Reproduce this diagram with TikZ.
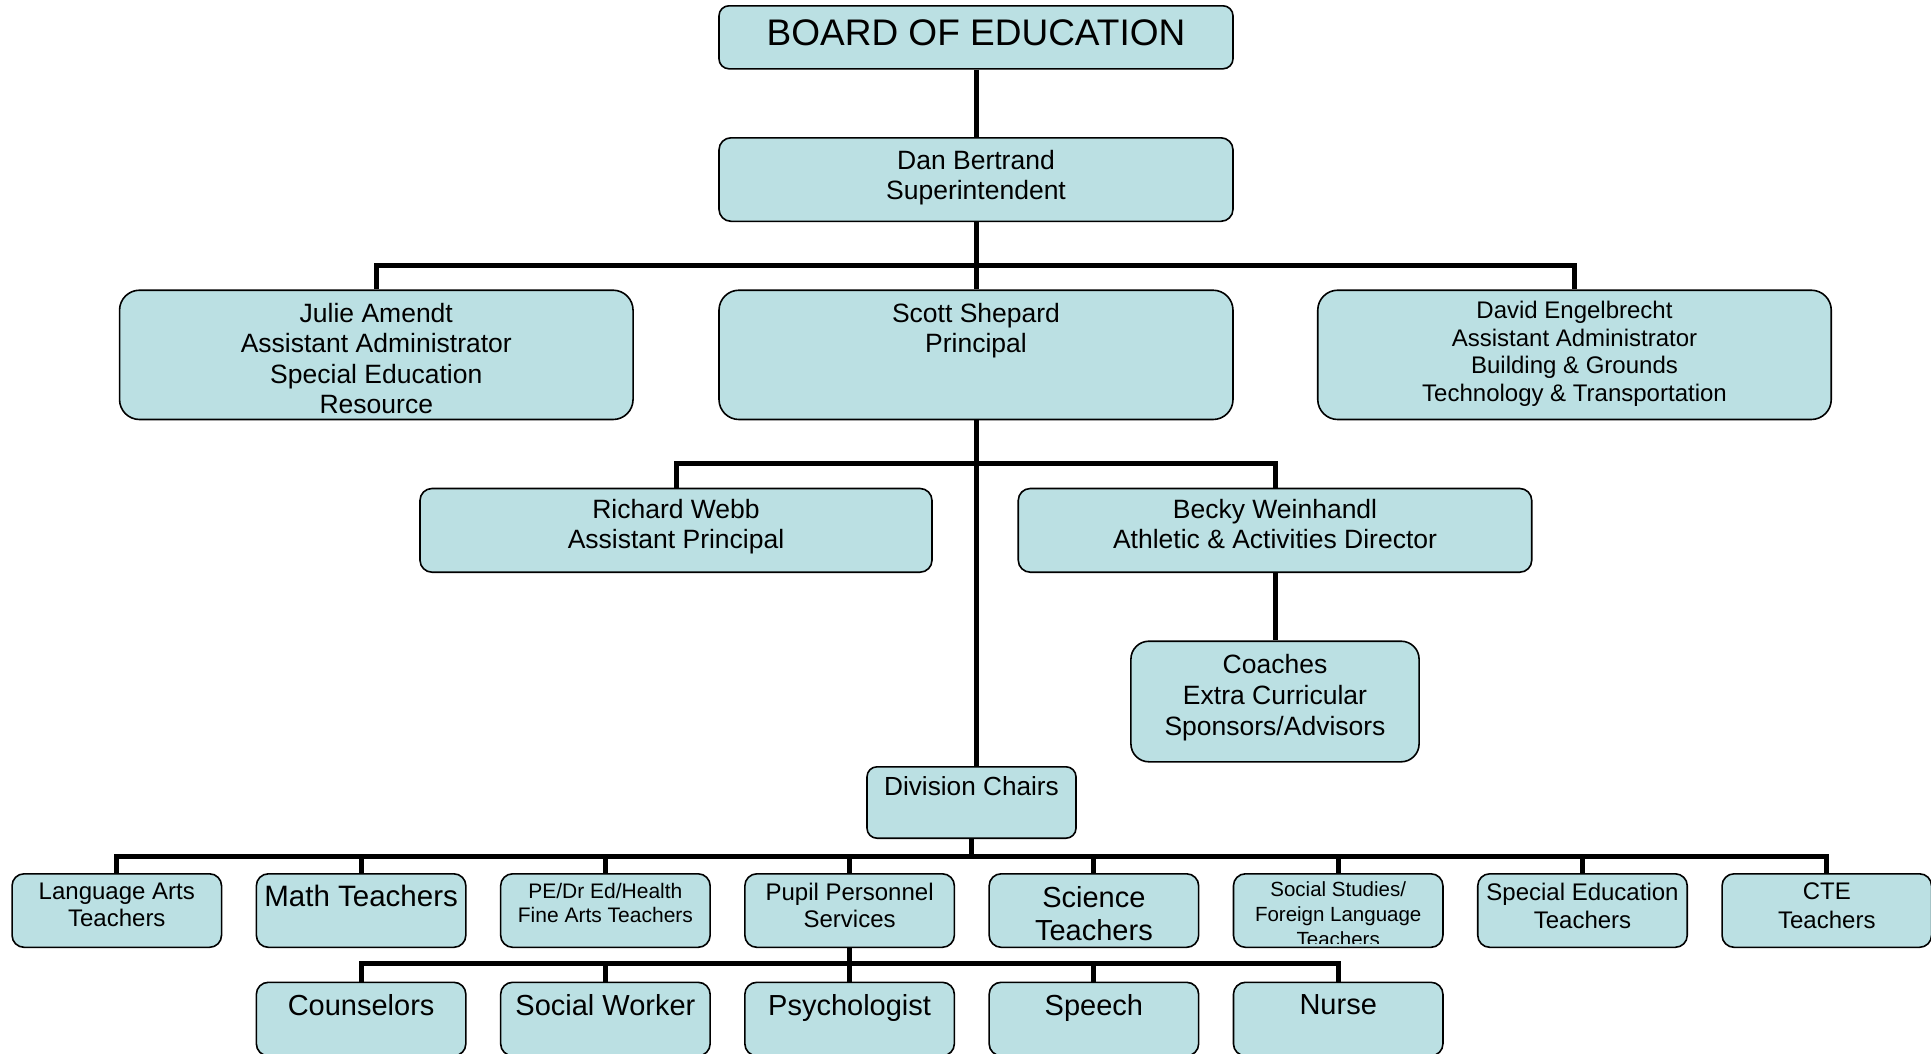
\documentclass[tikz,border=0pt]{standalone}
\usepackage{fontspec}
\setmainfont{Liberation Sans}
\definecolor{boxfill}{RGB}{187,224,227}
\newcommand\fsz[2]{\fontsize{#1}{#2}\selectfont}
\begin{document}
\begin{tikzpicture}[x=1pt,y=-1pt,
  orgbox/.style={draw=black, line width=1.6pt, fill=boxfill, inner sep=0pt, anchor=north, rounded corners=#1},
  orgbox/.default=12pt,
  tx/.style={inner sep=0pt, align=center, anchor=north},
  conn/.style={line width=5pt, line cap=butt, line join=miter}]
\clip (0,0) rectangle (1931,1053);
\fill[white] (0,0) rectangle (1931,1053);

% ---- boxes
\node[orgbox=10pt, minimum width=514pt, minimum height=63pt] (board) at (976,5) {};
\node[orgbox=12pt, minimum width=514pt, minimum height=83.5pt] (dan) at (976,137) {};
\node[orgbox=20pt, minimum width=513.5pt, minimum height=129.3pt] (julie) at (376.3,289.4) {};
\node[orgbox=20pt, minimum width=514pt, minimum height=129.3pt] (scott) at (976,289.4) {};
\node[orgbox=20pt, minimum width=513.5pt, minimum height=129.3pt] (david) at (1574.5,289.4) {};
\node[orgbox=12pt, minimum width=512pt, minimum height=83.7pt] (richard) at (676,487.7) {};
\node[orgbox=12pt, minimum width=513.5pt, minimum height=83.7pt] (becky) at (1275,487.7) {};
\node[orgbox=18pt, minimum width=288.2pt, minimum height=120.6pt] (coaches) at (1275,640.4) {};
\node[orgbox=10pt, minimum width=209pt, minimum height=71.4pt] (divc) at (971.5,766) {};

\foreach \n/\cx in {a/116.8,b/361.1,c/605.4,d/849.6,e/1093.9,f/1338.2,g/1582.5,h/1826.8}
  \node[orgbox=12pt, minimum width=209.5pt, minimum height=73.5pt] (r5\n) at (\cx,873) {};
\foreach \n/\cx in {a/361.1,b/605.4,c/849.6,d/1093.9,e/1338.2}
  \node[orgbox=12pt, minimum width=209.5pt, minimum height=73.5pt] (r6\n) at (\cx,981.5) {};

% ---- texts
\node[tx, font=\fsz{37}{40}] (boardT) at (976,19) {BOARD OF EDUCATION};
\node[tx, font=\fsz{26.5}{30}] (danT) at (976,150) {Dan Bertrand\\Superintendent};
\node[tx, font=\fsz{26.5}{30.4}] (julieT) at (376.3,303) {Julie Amendt\\Assistant Administrator\\Special Education\\Resource};
\node[tx, font=\fsz{26.5}{30}] (scottT) at (976,303) {Scott Shepard\\Principal};
\node[tx, font=\fsz{24}{27.5}] (davidT) at (1574.5,301.4) {David Engelbrecht\\Assistant Administrator\\Building \& Grounds\\Technology \& Transportation};
\node[tx, font=\fsz{26.5}{30}] (richardT) at (676,499) {Richard Webb\\Assistant Principal};
\node[tx, font=\fsz{26.5}{30}] (beckyT) at (1275,499) {Becky Weinhandl\\Athletic \& Activities Director};
\node[tx, font=\fsz{26.5}{30.8}] (coachesT) at (1275,654) {Coaches\\Extra Curricular\\Sponsors/Advisors};
\node[tx, font=\fsz{26.2}{30}] (divcT) at (971.5,776) {Division Chairs};

\node[tx, font=\fsz{24}{27}] (r5aT) at (116.8,882.7) {Language Arts\\Teachers};
\node[tx, font=\fsz{29.5}{32}] (r5bT) at (361.1,884.6) {Math Teachers};
\node[tx, font=\fsz{21}{24.6}] (r5cT) at (605.4,882.6) {PE/Dr Ed/Health\\Fine Arts Teachers};
\node[tx, font=\fsz{24}{27}] (r5dT) at (849.6,882.7) {Pupil Personnel\\Services};
\node[tx, font=\fsz{29}{33.3}] (r5eT) at (1093.9,885.8) {Science\\Teachers};
\begin{scope}
  \clip ([yshift=5pt]r5f.south west) rectangle (r5f.north east);
  \node[tx, font=\fsz{20.5}{24.8}] (r5fT) at (1338.2,881.6) {Social Studies/\\Foreign Language\\Teachers};
\end{scope}
\node[tx, font=\fsz{24}{28.4}] (r5gT) at (1582.5,882.7) {Special Education\\Teachers};
\node[tx, font=\fsz{24}{28.4}] (r5hT) at (1826.8,882.7) {CTE\\Teachers};

\node[tx, font=\fsz{29}{32}] (r6aT) at (361.1,994) {Counselors};
\node[tx, font=\fsz{29}{32}] (r6bT) at (605.4,994) {Social Worker};
\node[tx, font=\fsz{29}{32}] (r6cT) at (849.6,994) {Psychologist};
\node[tx, font=\fsz{29}{32}] (r6dT) at (1093.9,994) {Speech};
\node[tx, font=\fsz{29}{32}] (r6eT) at (1338.2,994) {Nurse};

% ---- connectors
\coordinate (bar1) at (976,265);
\coordinate (bar2) at (976,463);
\coordinate (bar3) at (971.5,856);
\coordinate (bar4) at (849.6,963);

\draw[conn] (board.south) -- (dan.north);
\draw[conn] (dan.south) -- (bar1);
\draw[conn] (julie.north) |- (bar1) -| (david.north);
\draw[conn] (bar1) -- (scott.north);

\draw[conn] (scott.south) -- (scott.south |- divc.north);
\draw[conn] (richard.north) |- (bar2) -| (becky.north);
\draw[conn] (becky.south) -- (coaches.north);

\draw[conn] (divc.south) -- (bar3);
\draw[conn] (r5a.north) |- (bar3) -| (r5h.north);
\foreach \n in {b,c,d,e,f,g}
  \draw[conn] (bar3 -| r5\n.north) -- (r5\n.north);

\draw[conn] (r5d.south) -- (bar4);
\draw[conn] (r6a.north) |- (bar4) -| (r6e.north);
\foreach \n in {b,c,d}
  \draw[conn] (bar4 -| r6\n.north) -- (r6\n.north);
\end{tikzpicture}
\end{document}
